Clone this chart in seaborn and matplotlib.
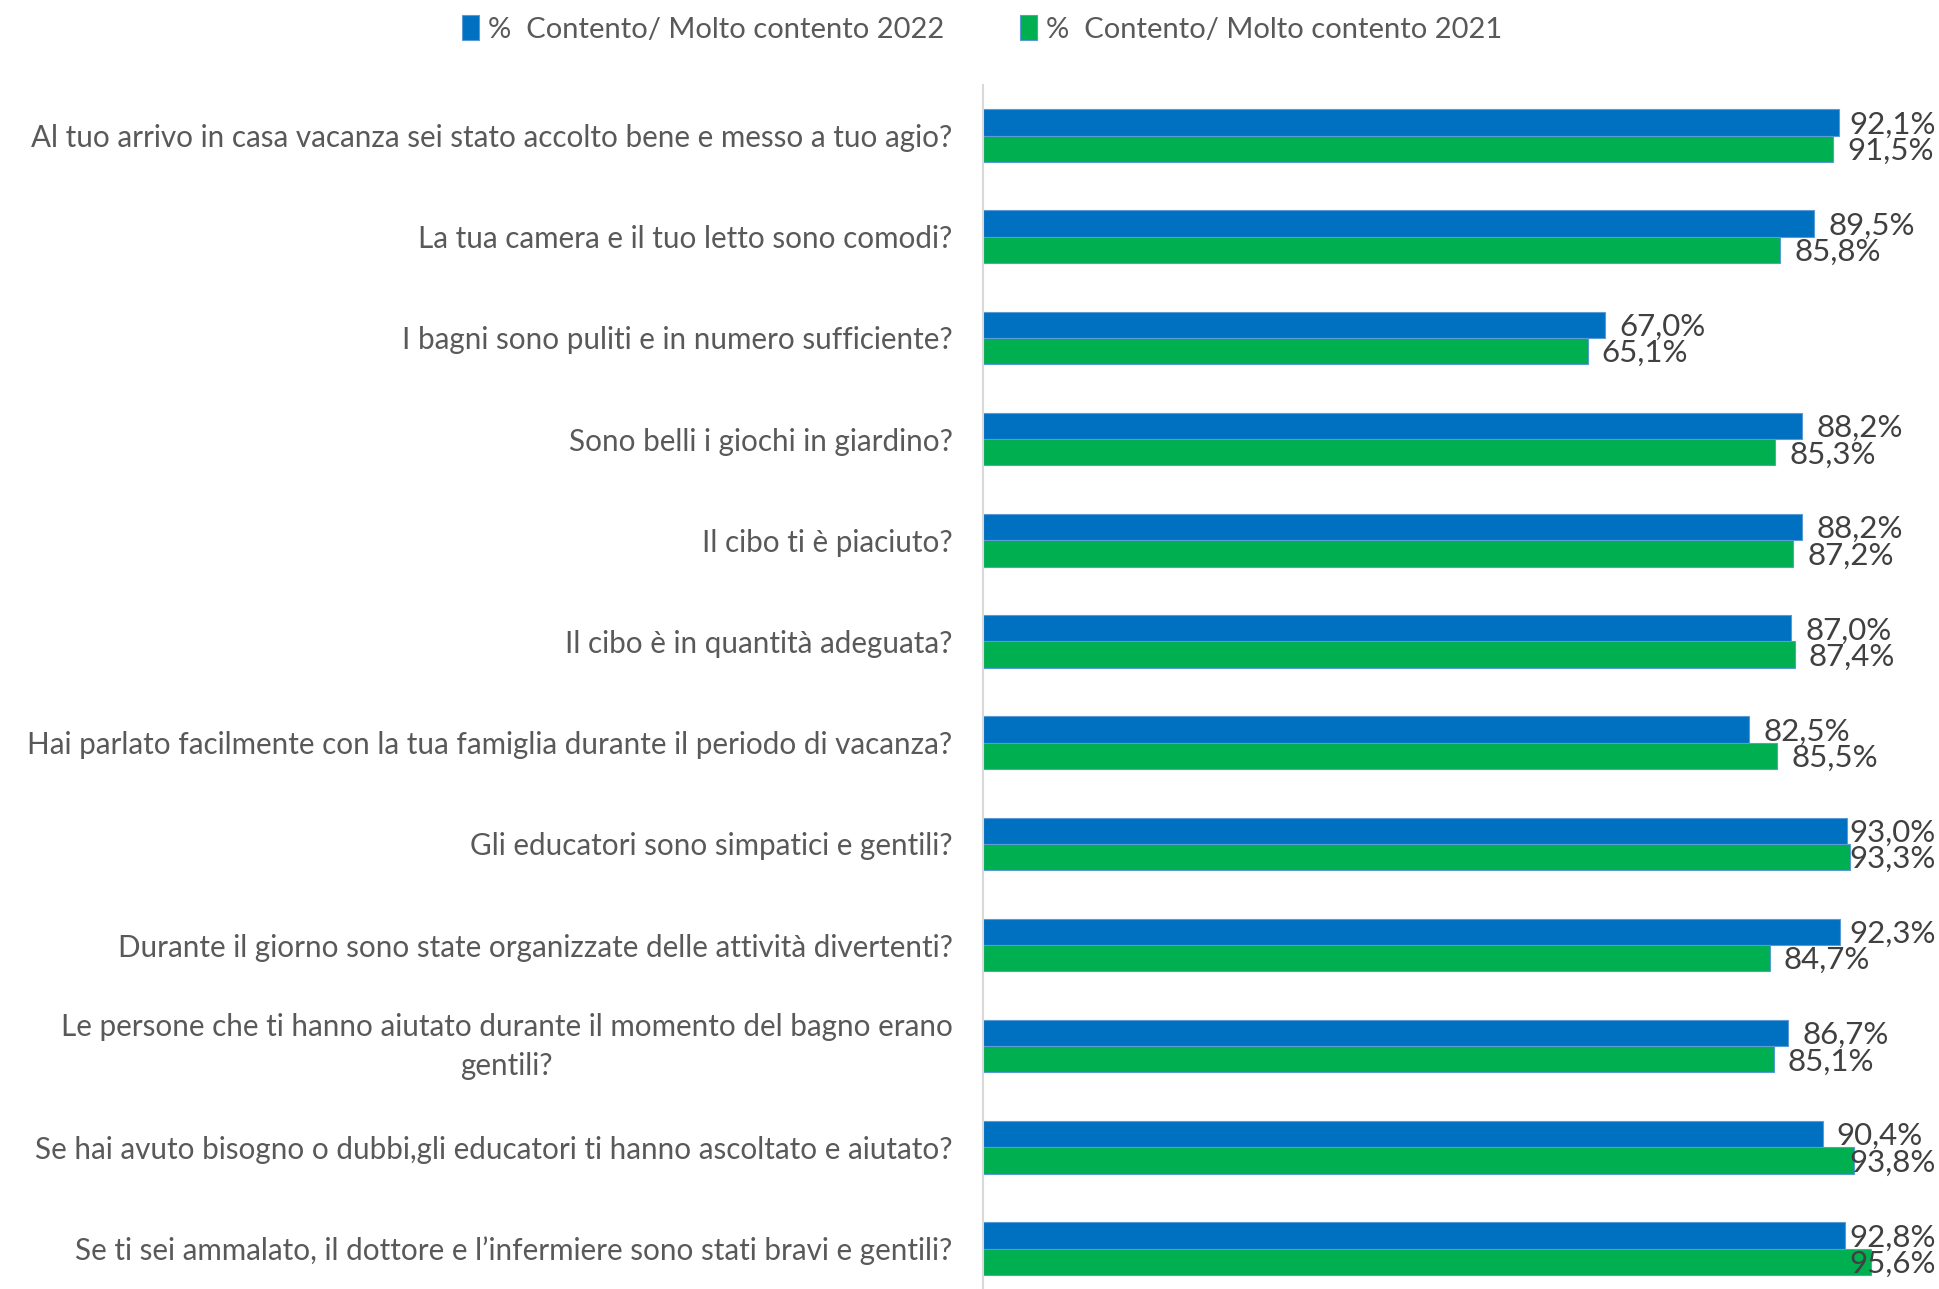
import pandas as pd
import numpy as np
import matplotlib
matplotlib.use('Agg')
import matplotlib.pyplot as plt
import matplotlib.transforms as mtransforms
import seaborn as sns

domande = [
    'Al tuo arrivo in casa vacanza sei stato accolto bene e messo a tuo agio?',
    'La tua camera e il tuo letto sono comodi?',
    'I bagni sono puliti e in numero sufficiente?',
    'Sono belli i giochi in giardino?',
    'Il cibo ti è piaciuto?',
    'Il cibo è in quantità adeguata?',
    'Hai parlato facilmente con la tua famiglia durante il periodo di vacanza?',
    'Gli educatori sono simpatici e gentili?',
    'Durante il giorno sono state organizzate delle attività divertenti?',
    'Le persone che ti hanno aiutato durante il momento del bagno erano\ngentili?',
    'Se hai avuto bisogno o dubbi,gli educatori ti hanno ascoltato e aiutato?',
    'Se ti sei ammalato, il dottore e l\u2019infermiere sono stati bravi e gentili?',
]
val_2022 = [92.1, 89.5, 67.0, 88.2, 88.2, 87.0, 82.5, 93.0, 92.3, 86.7, 90.4, 92.8]
val_2021 = [91.5, 85.8, 65.1, 85.3, 87.2, 87.4, 85.5, 93.3, 84.7, 85.1, 93.8, 95.6]
serie = ['%  Contento/ Molto contento 2022', '%  Contento/ Molto contento 2021']

df = pd.DataFrame({
    'domanda': domande * 2,
    'valore': val_2022 + val_2021,
    'serie': [serie[0]] * len(domande) + [serie[1]] * len(domande),
})

sns.set_style('white')
plt.rcParams['font.family'] = ['Lato', 'DejaVu Sans']
grigio = '#595959'

W, H = 1939, 1289
fig = plt.figure(figsize=(W / 100, H / 100), dpi=100)
ax = fig.add_axes([983 / W, 0, (1912 - 983) / W, (H - 85) / H])

sns.barplot(data=df, y='domanda', x='valore', hue='serie', orient='h',
            palette=['#0070C0', '#00B050'], saturation=1, width=0.52, ax=ax,
            edgecolor='#5B9BD5', linewidth=0.8, legend=True)

ax.set_xlim(0, 100)
ax.set_ylim(11.4, -0.5)
ax.set_xlabel('')
ax.set_ylabel('')
ax.set_xticks([])
ax.tick_params(axis='y', length=0, pad=22, labelsize=21.3, labelcolor=grigio)
# etichetta su due righe: centrata e un po' più in alto
su = mtransforms.ScaledTranslation(0, 0.08, fig.dpi_scale_trans)
for t in ax.get_yticklabels():
    t.set_multialignment('center')
    if '\n' in t.get_text():
        t.set_linespacing(1.5)
        t.set_transform(t.get_transform() + su)
for s in ['top', 'right', 'bottom']:
    ax.spines[s].set_visible(False)
ax.spines['left'].set_color('#D9D9D9')
ax.spines['left'].set_linewidth(1.5)

# etichette valori (spostate a sinistra se escono dal grafico, come in Excel)
for cont in ax.containers:
    for bar in cont:
        v = bar.get_width()
        yc = bar.get_y() + bar.get_height() / 2
        xl = min(v + 1.5, 93.3)
        ax.text(xl, yc + 0.02, f'{v:.1f}%'.replace('.', ','), va='center', ha='left',
                fontsize=22.5, color='#404040', clip_on=False)

leg = ax.legend_
handles = leg.legend_handles
leg.remove()
fig.legend(handles, serie, loc='center', bbox_to_anchor=(982 / W, 1 - 29 / H),
           ncol=2, frameon=False, fontsize=21, labelcolor=grigio,
           handlelength=0.6, handleheight=0.9, handletextpad=0.3,
           columnspacing=2.6)

fig.savefig('out.png', dpi=100)
